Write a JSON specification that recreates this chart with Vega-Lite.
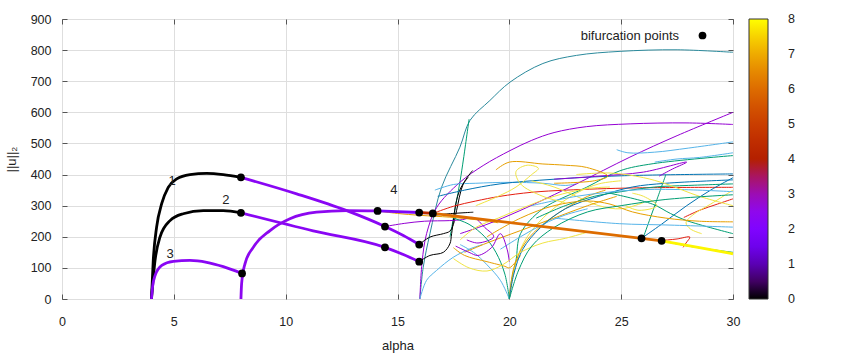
{
"$schema":"https://vega.github.io/schema/vega-lite/v6.json",
"width":671,"height":280,
"autosize":{"type":"none"},
"padding":{"left":62,"top":19,"right":117,"bottom":60},
"background":"white",
"config":{"font":"Liberation Sans","view":{"stroke":"#3c3c3c","strokeWidth":1},
"axis":{"labelFont":"Liberation Sans","labelFontSize":12.5,"labelColor":"#222","tickColor":"#555","domain":false,"gridColor":"#dedede","titleFont":"Liberation Sans","titleFontWeight":"normal","titleFontSize":13,"titleColor":"#222"},
"legend":{"labelFont":"Liberation Sans","labelFontSize":12.5,"labelColor":"#222"}},
"datasets":{
"thin":[
{"b":"t1","o":0,"a":16,"n":0},{"b":"t1","o":1,"a":16.15,"n":102},{"b":"t1","o":2,"a":16.45,"n":210},{"b":"t1","o":3,"a":16.97,"n":359},{"b":"t1","o":4,"a":17.79,"n":488},{"b":"t1","o":5,"a":18.24,"n":574},{"b":"t1","o":6,"a":19.13,"n":638},{"b":"t1","o":7,"a":20.03,"n":697},{"b":"t1","o":8,"a":21.5,"n":757},{"b":"t1","o":9,"a":23,"n":783},{"b":"t1","o":10,"a":24.95,"n":796},{"b":"t1","o":11,"a":27.5,"n":801},{"b":"t1","o":12,"a":30,"n":793},
{"b":"t2","o":0,"a":18.2,"n":578},{"b":"t2","o":1,"a":17.95,"n":450},{"b":"t2","o":2,"a":17.8,"n":380},{"b":"t2","o":3,"a":17.6,"n":300},{"b":"t2","o":4,"a":17.45,"n":240},{"b":"t2","o":5,"a":17.35,"n":200},
{"b":"t3","o":0,"a":16,"n":0},{"b":"t3","o":1,"a":16.1,"n":120},{"b":"t3","o":2,"a":16.3,"n":210},{"b":"t3","o":3,"a":16.75,"n":294},{"b":"t3","o":4,"a":17.79,"n":375},{"b":"t3","o":5,"a":18.83,"n":429},{"b":"t3","o":6,"a":20.03,"n":477},{"b":"t3","o":7,"a":21,"n":510},{"b":"t3","o":8,"a":22,"n":535},{"b":"t3","o":9,"a":23.45,"n":554},{"b":"t3","o":10,"a":25.4,"n":563},{"b":"t3","o":11,"a":27.9,"n":566},{"b":"t3","o":12,"a":30,"n":561},
{"b":"t4","o":0,"a":16,"n":0},{"b":"t4","o":1,"a":16.3,"n":60},{"b":"t4","o":2,"a":16.75,"n":92},{"b":"t4","o":3,"a":17.49,"n":134},{"b":"t4","o":4,"a":18.2,"n":160},{"b":"t4","o":5,"a":18.8,"n":175},
{"b":"t5","o":0,"a":16.67,"n":350},{"b":"t5","o":1,"a":17.5,"n":368},{"b":"t5","o":2,"a":18.5,"n":372},{"b":"t5","o":3,"a":20,"n":375},{"b":"t5","o":4,"a":21.5,"n":372},{"b":"t5","o":5,"a":22.5,"n":365},{"b":"t5","o":6,"a":23,"n":370},
{"b":"t6","o":0,"a":15.97,"n":175},{"b":"t6","o":1,"a":16.45,"n":199},{"b":"t6","o":2,"a":17.05,"n":210},{"b":"t6","o":3,"a":17.34,"n":218},{"b":"t6","o":4,"a":17.5,"n":240},{"b":"t6","o":5,"a":17.64,"n":284},{"b":"t6","o":6,"a":17.94,"n":370},{"b":"t6","o":7,"a":18.36,"n":413},
{"b":"t7","o":0,"a":15.97,"n":120},{"b":"t7","o":1,"a":16.45,"n":140},{"b":"t7","o":2,"a":17.05,"n":150},{"b":"t7","o":3,"a":17.34,"n":177},{"b":"t7","o":4,"a":17.42,"n":210},{"b":"t7","o":5,"a":17.64,"n":317},{"b":"t7","o":6,"a":17.85,"n":360},{"b":"t7","o":7,"a":18.16,"n":391},
{"b":"t8","o":0,"a":16.45,"n":268},{"b":"t8","o":1,"a":17.3,"n":274},{"b":"t8","o":2,"a":18.39,"n":279},
{"b":"t9","o":0,"a":14.11,"n":283},{"b":"t9","o":1,"a":15,"n":275},{"b":"t9","o":2,"a":16,"n":269},{"b":"t9","o":3,"a":17.34,"n":263},{"b":"t9","o":4,"a":18.5,"n":255},{"b":"t9","o":5,"a":19.5,"n":245},
{"b":"t10","o":0,"a":14.44,"n":233},{"b":"t10","o":1,"a":15.3,"n":243},{"b":"t10","o":2,"a":16.2,"n":250},{"b":"t10","o":3,"a":17.34,"n":252},{"b":"t10","o":4,"a":17.9,"n":255},{"b":"t10","o":5,"a":18.4,"n":262},{"b":"t10","o":6,"a":18.9,"n":230},{"b":"t10","o":7,"a":19.3,"n":200},{"b":"t10","o":8,"a":18.6,"n":180},{"b":"t10","o":9,"a":18.1,"n":190},
{"b":"t11","o":0,"a":16.58,"n":275},{"b":"t11","o":1,"a":17.5,"n":298},{"b":"t11","o":2,"a":18.5,"n":315},{"b":"t11","o":3,"a":19.58,"n":330},{"b":"t11","o":4,"a":21,"n":343},{"b":"t11","o":5,"a":22.56,"n":350},{"b":"t11","o":6,"a":25.54,"n":357},{"b":"t11","o":7,"a":30,"n":359},
{"b":"t12","o":0,"a":17.8,"n":210},{"b":"t12","o":1,"a":19,"n":240},{"b":"t12","o":2,"a":20.47,"n":284},{"b":"t12","o":3,"a":23,"n":370},{"b":"t12","o":4,"a":25.39,"n":456},{"b":"t12","o":5,"a":27.5,"n":525},{"b":"t12","o":6,"a":30,"n":600},
{"b":"t13","o":0,"a":24.8,"n":480},{"b":"t13","o":1,"a":25.3,"n":470},{"b":"t13","o":2,"a":26.5,"n":472},{"b":"t13","o":3,"a":28,"n":485},{"b":"t13","o":4,"a":30,"n":505},
{"b":"t14","o":0,"a":20,"n":0},{"b":"t14","o":1,"a":20.1,"n":60},{"b":"t14","o":2,"a":20.3,"n":125},{"b":"t14","o":3,"a":20.5,"n":210},{"b":"t14","o":4,"a":21.5,"n":290},{"b":"t14","o":5,"a":23.45,"n":359},{"b":"t14","o":6,"a":24.94,"n":412},{"b":"t14","o":7,"a":26.43,"n":435},{"b":"t14","o":8,"a":30,"n":461},
{"b":"t15","o":0,"a":25.91,"n":195},{"b":"t15","o":1,"a":26.8,"n":240},{"b":"t15","o":2,"a":27.93,"n":300},{"b":"t15","o":3,"a":29,"n":350},{"b":"t15","o":4,"a":30,"n":390},
{"b":"t16","o":0,"a":16.8,"n":330},{"b":"t16","o":1,"a":18,"n":350},{"b":"t16","o":2,"a":19.58,"n":370},{"b":"t16","o":3,"a":22,"n":385},{"b":"t16","o":4,"a":25,"n":396},{"b":"t16","o":5,"a":30,"n":402},
{"b":"t17","o":0,"a":27.8,"n":262},{"b":"t17","o":1,"a":28.5,"n":285},{"b":"t17","o":2,"a":29.3,"n":305},{"b":"t17","o":3,"a":30,"n":322},
{"b":"t18","o":0,"a":28.6,"n":210},{"b":"t18","o":1,"a":28.1,"n":225},{"b":"t18","o":2,"a":27.9,"n":245},{"b":"t18","o":3,"a":28.2,"n":270},{"b":"t18","o":4,"a":29,"n":305},{"b":"t18","o":5,"a":30,"n":350},
{"b":"t19","o":0,"a":26,"n":200},{"b":"t19","o":1,"a":26.3,"n":260},{"b":"t19","o":2,"a":26.6,"n":320},{"b":"t19","o":3,"a":27,"n":400},
{"b":"t20","o":0,"a":24.5,"n":340},{"b":"t20","o":1,"a":26.4,"n":305},{"b":"t20","o":2,"a":27.2,"n":275},{"b":"t20","o":3,"a":27.93,"n":252},{"b":"t20","o":4,"a":30,"n":210},
{"b":"t21","o":0,"a":22,"n":260},{"b":"t21","o":1,"a":24.94,"n":242},{"b":"t21","o":2,"a":27,"n":238},{"b":"t21","o":3,"a":30,"n":231},
{"b":"t22","o":0,"a":26.81,"n":187},{"b":"t22","o":1,"a":28,"n":170},{"b":"t22","o":2,"a":30,"n":150},
{"b":"t23","o":0,"a":26.81,"n":188},{"b":"t23","o":1,"a":27.5,"n":193},{"b":"t23","o":2,"a":28.07,"n":199},{"b":"t23","o":3,"a":27.9,"n":180},{"b":"t23","o":4,"a":27.77,"n":166},
{"b":"t24","o":0,"a":22,"n":385},{"b":"t24","o":1,"a":24,"n":395},{"b":"t24","o":2,"a":26,"n":408},{"b":"t24","o":3,"a":27.93,"n":440},{"b":"t24","o":4,"a":27.3,"n":418},{"b":"t24","o":5,"a":26.7,"n":395},
{"b":"t25","o":0,"a":20,"n":0},{"b":"t25","o":1,"a":20.3,"n":120},{"b":"t25","o":2,"a":20.8,"n":200},{"b":"t25","o":3,"a":21.8,"n":280},{"b":"t25","o":4,"a":23,"n":340},{"b":"t25","o":5,"a":24,"n":370},{"b":"t25","o":6,"a":25,"n":380},
{"b":"t26","o":0,"a":20,"n":0},{"b":"t26","o":1,"a":20.2,"n":100},{"b":"t26","o":2,"a":20.7,"n":180},{"b":"t26","o":3,"a":21.5,"n":240},{"b":"t26","o":4,"a":22.5,"n":290},{"b":"t26","o":5,"a":23.5,"n":330},{"b":"t26","o":6,"a":24.3,"n":350},
{"b":"t27","o":0,"a":19.4,"n":415},{"b":"t27","o":1,"a":20,"n":440},{"b":"t27","o":2,"a":21.5,"n":434},{"b":"t27","o":3,"a":22.5,"n":430},{"b":"t27","o":4,"a":23.45,"n":423},{"b":"t27","o":5,"a":24.4,"n":395},{"b":"t27","o":6,"a":23.8,"n":380},{"b":"t27","o":7,"a":22,"n":372},
{"b":"t28","o":0,"a":20,"n":0},{"b":"t28","o":1,"a":19.6,"n":60},{"b":"t28","o":2,"a":19,"n":110},{"b":"t28","o":3,"a":18.4,"n":150},{"b":"t28","o":4,"a":17.8,"n":175},
{"b":"t29","o":0,"a":20,"n":0},{"b":"t29","o":1,"a":19.8,"n":80},{"b":"t29","o":2,"a":19.4,"n":150},{"b":"t29","o":3,"a":18.9,"n":200},{"b":"t29","o":4,"a":18.2,"n":240},{"b":"t29","o":5,"a":17.5,"n":260},
{"b":"t30","o":0,"a":17.5,"n":165},{"b":"t30","o":1,"a":18,"n":140},{"b":"t30","o":2,"a":19,"n":120},{"b":"t30","o":3,"a":19.8,"n":105},{"b":"t30","o":4,"a":20,"n":100},{"b":"t30","o":5,"a":20.5,"n":140},
{"b":"t31","o":0,"a":17.8,"n":190},{"b":"t31","o":1,"a":18.5,"n":230},{"b":"t31","o":2,"a":19.5,"n":260},{"b":"t31","o":3,"a":20.5,"n":290},{"b":"t31","o":4,"a":22,"n":330},{"b":"t31","o":5,"a":23.5,"n":355},{"b":"t31","o":6,"a":24.5,"n":360},
{"b":"t32","o":0,"a":21,"n":380},{"b":"t32","o":1,"a":22,"n":360},{"b":"t32","o":2,"a":23,"n":330},{"b":"t32","o":3,"a":24,"n":300},{"b":"t32","o":4,"a":25,"n":290},{"b":"t32","o":5,"a":26,"n":310},
{"b":"t33","o":0,"a":18,"n":150},{"b":"t33","o":1,"a":19,"n":180},{"b":"t33","o":2,"a":20.5,"n":220},{"b":"t33","o":3,"a":22,"n":260},{"b":"t33","o":4,"a":23.5,"n":300},{"b":"t33","o":5,"a":24.8,"n":330},
{"b":"t34","o":0,"a":25.5,"n":340},{"b":"t34","o":1,"a":26,"n":330},{"b":"t34","o":2,"a":26.6,"n":300},{"b":"t34","o":3,"a":25.8,"n":285},{"b":"t34","o":4,"a":25.2,"n":300},
{"b":"t35","o":0,"a":19.6,"n":160},{"b":"t35","o":1,"a":20.5,"n":200},{"b":"t35","o":2,"a":21.5,"n":240},{"b":"t35","o":3,"a":22.5,"n":270},{"b":"t35","o":4,"a":23.5,"n":290},
{"b":"t36","o":0,"a":20,"n":0},{"b":"t36","o":1,"a":20.2,"n":80},{"b":"t36","o":2,"a":20.6,"n":160},{"b":"t36","o":3,"a":21.4,"n":230},{"b":"t36","o":4,"a":22.5,"n":290},{"b":"t36","o":5,"a":24,"n":330},{"b":"t36","o":6,"a":25.5,"n":360},{"b":"t36","o":7,"a":27,"n":372},{"b":"t36","o":8,"a":30,"n":383},
{"b":"t37","o":0,"a":17.6,"n":170},{"b":"t37","o":1,"a":18.2,"n":150},{"b":"t37","o":2,"a":18.6,"n":140},{"b":"t37","o":3,"a":19.2,"n":165},{"b":"t37","o":4,"a":19.6,"n":210},{"b":"t37","o":5,"a":19.9,"n":160},{"b":"t37","o":6,"a":20,"n":120},
{"b":"t38","o":0,"a":17.5,"n":130},{"b":"t38","o":1,"a":18.2,"n":100},{"b":"t38","o":2,"a":19,"n":90},{"b":"t38","o":3,"a":19.7,"n":110},{"b":"t38","o":4,"a":20.5,"n":150},{"b":"t38","o":5,"a":21.5,"n":180},{"b":"t38","o":6,"a":22.5,"n":195},{"b":"t38","o":7,"a":23.5,"n":215},
{"b":"t39","o":0,"a":21.2,"n":260},{"b":"t39","o":1,"a":22.5,"n":300},{"b":"t39","o":2,"a":23.8,"n":330},{"b":"t39","o":3,"a":25,"n":345},{"b":"t39","o":4,"a":26.5,"n":360},{"b":"t39","o":5,"a":28,"n":365},{"b":"t39","o":6,"a":30,"n":370},
{"b":"t40","o":0,"a":26.5,"n":440},{"b":"t40","o":1,"a":27.5,"n":450},{"b":"t40","o":2,"a":28.5,"n":455},{"b":"t40","o":3,"a":30,"n":470},
{"b":"t41","o":0,"a":21,"n":300},{"b":"t41","o":1,"a":23,"n":330},{"b":"t41","o":2,"a":25.5,"n":350},{"b":"t41","o":3,"a":27.5,"n":352},{"b":"t41","o":4,"a":30,"n":345},
{"b":"t42","o":0,"a":23,"n":400},{"b":"t42","o":1,"a":24.5,"n":405},{"b":"t42","o":2,"a":26,"n":390},{"b":"t42","o":3,"a":27,"n":370},{"b":"t42","o":4,"a":28.5,"n":330},{"b":"t42","o":5,"a":30,"n":300},
{"b":"t43","o":0,"a":19,"n":200},{"b":"t43","o":1,"a":20.5,"n":260},{"b":"t43","o":2,"a":22,"n":300},{"b":"t43","o":3,"a":23.5,"n":315},{"b":"t43","o":4,"a":24.5,"n":305},{"b":"t43","o":5,"a":25.5,"n":280},{"b":"t43","o":6,"a":27,"n":260},{"b":"t43","o":7,"a":28.5,"n":250},{"b":"t43","o":8,"a":30,"n":248},
{"b":"t44","o":0,"a":18.5,"n":300},{"b":"t44","o":1,"a":19.5,"n":330},{"b":"t44","o":2,"a":20.3,"n":360},{"b":"t44","o":3,"a":21,"n":400},{"b":"t44","o":4,"a":21.3,"n":420},{"b":"t44","o":5,"a":20.8,"n":430},{"b":"t44","o":6,"a":20.3,"n":410},{"b":"t44","o":7,"a":20.5,"n":370},{"b":"t44","o":8,"a":21.5,"n":330},{"b":"t44","o":9,"a":22.5,"n":310},
{"b":"t45","o":0,"a":20,"n":0},{"b":"t45","o":1,"a":20.4,"n":90},{"b":"t45","o":2,"a":21,"n":170},{"b":"t45","o":3,"a":22,"n":230},{"b":"t45","o":4,"a":23.5,"n":280},{"b":"t45","o":5,"a":25,"n":300},{"b":"t45","o":6,"a":27,"n":320},{"b":"t45","o":7,"a":30,"n":335}
],
"thick":[
{"seg":"c1a","v":0,"o":0,"a":4,"n":0},{"seg":"c1a","v":0,"o":1,"a":4.08,"n":124},{"seg":"c1a","v":0,"o":2,"a":4.23,"n":231},{"seg":"c1a","v":0,"o":3,"a":4.46,"n":307},{"seg":"c1a","v":0,"o":4,"a":4.75,"n":359},{"seg":"c1a","v":0,"o":5,"a":5.13,"n":386},{"seg":"c1a","v":0,"o":6,"a":5.72,"n":400},{"seg":"c1a","v":0,"o":7,"a":6.47,"n":404},{"seg":"c1a","v":0,"o":8,"a":7.21,"n":400},{"seg":"c1a","v":0,"o":9,"a":8,"n":391},
{"seg":"c1b","v":2.3,"o":0,"a":8,"n":391},{"seg":"c1b","v":2.3,"o":1,"a":10.49,"n":338},{"seg":"c1b","v":2.3,"o":2,"a":12.73,"n":284},{"seg":"c1b","v":2.3,"o":3,"a":14.44,"n":233},{"seg":"c1b","v":2.3,"o":4,"a":15.26,"n":204},{"seg":"c1b","v":2.3,"o":5,"a":15.97,"n":175},
{"seg":"c2a","v":0,"o":0,"a":4,"n":0},{"seg":"c2a","v":0,"o":1,"a":4.16,"n":124},{"seg":"c2a","v":0,"o":2,"a":4.38,"n":199},{"seg":"c2a","v":0,"o":3,"a":4.83,"n":252},{"seg":"c2a","v":0,"o":4,"a":5.42,"n":274},{"seg":"c2a","v":0,"o":5,"a":6.32,"n":284},{"seg":"c2a","v":0,"o":6,"a":7.21,"n":284},{"seg":"c2a","v":0,"o":7,"a":8,"n":277},
{"seg":"c2b","v":2.3,"o":0,"a":8,"n":277},{"seg":"c2b","v":2.3,"o":1,"a":11.23,"n":219},{"seg":"c2b","v":2.3,"o":2,"a":14.44,"n":166},{"seg":"c2b","v":2.3,"o":3,"a":15.26,"n":143},{"seg":"c2b","v":2.3,"o":4,"a":15.97,"n":120},
{"seg":"c3","v":2.3,"o":0,"a":4,"n":0},{"seg":"c3","v":2.3,"o":1,"a":4.05,"n":40},{"seg":"c3","v":2.3,"o":2,"a":4.16,"n":75},{"seg":"c3","v":2.3,"o":3,"a":4.46,"n":108},{"seg":"c3","v":2.3,"o":4,"a":4.98,"n":121},{"seg":"c3","v":2.3,"o":5,"a":5.72,"n":124},{"seg":"c3","v":2.3,"o":6,"a":6.47,"n":118},{"seg":"c3","v":2.3,"o":7,"a":7.21,"n":104},{"seg":"c3","v":2.3,"o":8,"a":8.05,"n":82},
{"seg":"c4a","v":2.4,"o":0,"a":8,"n":0},{"seg":"c4a","v":2.4,"o":1,"a":8.03,"n":49},{"seg":"c4a","v":2.4,"o":2,"a":8.18,"n":113},{"seg":"c4a","v":2.4,"o":3,"a":8.55,"n":166},{"seg":"c4a","v":2.4,"o":4,"a":9.3,"n":220},{"seg":"c4a","v":2.4,"o":5,"a":10.19,"n":258},{"seg":"c4a","v":2.4,"o":6,"a":11.38,"n":279},{"seg":"c4a","v":2.4,"o":7,"a":12.73,"n":284},{"seg":"c4a","v":2.4,"o":8,"a":14.11,"n":283},
{"seg":"c4b","v":1.9,"o":0,"a":14.11,"n":283},{"seg":"c4b","v":1.9,"o":1,"a":15.97,"n":278},
{"seg":"c4c","v":4.4,"o":0,"a":15.97,"n":278},{"seg":"c4c","v":4.4,"o":1,"a":16.58,"n":275},
{"seg":"c4d","v":6,"o":0,"a":16.58,"n":275},{"seg":"c4d","v":6,"o":1,"a":25.91,"n":195},{"seg":"c4d","v":6,"o":2,"a":26.81,"n":187},
{"seg":"c4e","v":7.9,"o":0,"a":26.81,"n":187},{"seg":"c4e","v":7.9,"o":1,"a":28.5,"n":165},{"seg":"c4e","v":7.9,"o":2,"a":30,"n":145}
],
"dots":[
{"kind":"bifurcation points","a":8,"n":391},{"kind":"bifurcation points","a":8,"n":277},{"kind":"bifurcation points","a":8.05,"n":82},{"kind":"bifurcation points","a":14.11,"n":283},{"kind":"bifurcation points","a":14.44,"n":233},{"kind":"bifurcation points","a":14.44,"n":166},{"kind":"bifurcation points","a":15.97,"n":278},{"kind":"bifurcation points","a":16.58,"n":275},{"kind":"bifurcation points","a":15.97,"n":175},{"kind":"bifurcation points","a":15.97,"n":120},{"kind":"bifurcation points","a":25.91,"n":195},{"kind":"bifurcation points","a":26.81,"n":187}
],
"labels":[
{"a":4.92,"n":378,"t":"1"},{"a":7.33,"n":317,"t":"2"},{"a":4.83,"n":146,"t":"3"},{"a":14.84,"n":349,"t":"4"}
]},
"layer":[
{"data":{"name":"thin"},
"mark":{"type":"line","strokeWidth":1,"interpolate":"catmull-rom"},
"encoding":{
"x":{"field":"a","type":"quantitative","scale":{"domain":[0,30],"nice":false,"zero":false},"axis":{"orient":"bottom","values":[0,5,10,15,20,25,30],"title":"alpha","grid":true,"tickSize":-5,"labelPadding":21,"titlePadding":12,"labelFlush":false}},
"y":{"field":"n","type":"quantitative","scale":{"domain":[0,900],"nice":false},"axis":{"orient":"left","values":[0,100,200,300,400,500,600,700,800,900],"title":"||u||₂","grid":true,"tickSize":-5,"labelPadding":16,"titlePadding":12,"labelFlush":false}},
"stroke":{"field":"b","type":"nominal","legend":null,"scale":{
"domain":["t1","t2","t3","t4","t5","t6","t7","t8","t9","t10","t11","t12","t13","t14","t15","t16","t17","t18","t19","t20","t21","t22","t23","t24","t25","t26","t27","t28","t29","t30","t31","t32","t33","t34","t35","t36","t37","t38","t39","t40","t41","t42","t43","t44","t45"],
"range":["#2b8a9c","#009e73","#9400d3","#56b4e9","#56b4e9","#000000","#000000","#000000","#e69f00","#9400d3","#e51e10","#9400d3","#56b4e9","#009e73","#0072b2","#0072b2","#e51e10","#f0e442","#009e73","#009e73","#56b4e9","#009e73","#e51e10","#9400d3","#f0e442","#e69f00","#e69f00","#56b4e9","#009e73","#e69f00","#f0e442","#f0e442","#e69f00","#f0e442","#56b4e9","#0072b2","#9400d3","#f0e442","#009e73","#56b4e9","#56b4e9","#f0e442","#e69f00","#f0e442","#009e73"]}},
"order":{"field":"o","type":"quantitative"}}},
{"data":{"name":"thick"},
"mark":{"type":"line","strokeWidth":2.8,"interpolate":"monotone"},
"encoding":{
"x":{"field":"a","type":"quantitative","axis":null},
"y":{"field":"n","type":"quantitative","axis":null},
"color":{"field":"v","type":"quantitative","scale":{"domain":[0,0.5,1,1.5,2,2.5,3,3.5,4,4.5,5,5.5,6,6.5,7,7.5,8],"range":["#000000","#400062","#5a00b4","#6e02ec","#8004ff","#8f08ec","#9c0db4","#a91562","#b42000","#bf2d00","#ca3e00","#d35300","#dd6c00","#e68900","#efab00","#f7d200","#ffff00"],"interpolate":"rgb","zero":false,"nice":false},
"legend":{"orient":"none","legendX":687,"legendY":0,"direction":"vertical","gradientLength":280,"gradientThickness":19,"title":null,"values":[0,1,2,3,4,5,6,7,8],"labelOffset":20,"gradientStrokeColor":"#333","gradientStrokeWidth":1,"labelBaseline":"middle","encode":{"labels":{"update":{"baseline":{"value":"middle"}}}}}},
"detail":{"field":"seg"},
"order":{"field":"o","type":"quantitative"}}},
{"data":{"name":"dots"},
"mark":{"type":"point","filled":true,"color":"black","opacity":1,"size":60},
"encoding":{
"x":{"field":"a","type":"quantitative","axis":null},
"y":{"field":"n","type":"quantitative","axis":null},
"shape":{"field":"kind","type":"nominal","scale":{"range":["circle"]},
"legend":{"orient":"none","legendX":634,"legendY":10,"title":null,"labelAlign":"right","labelOffset":-30,"symbolSize":60,"symbolFillColor":"black","symbolStrokeColor":"black","labelFontSize":13}}}},
{"data":{"name":"labels"},
"mark":{"type":"text","fontSize":13,"font":"Liberation Sans","color":"#222"},
"encoding":{
"x":{"field":"a","type":"quantitative","axis":{"orient":"top","values":[0,5,10,15,20,25,30],"labels":false,"grid":false,"title":null,"tickSize":-5}},
"y":{"field":"n","type":"quantitative","axis":{"orient":"right","values":[0,100,200,300,400,500,600,700,800,900],"labels":false,"grid":false,"title":null,"tickSize":-5}},
"text":{"field":"t"}}}
]
}
